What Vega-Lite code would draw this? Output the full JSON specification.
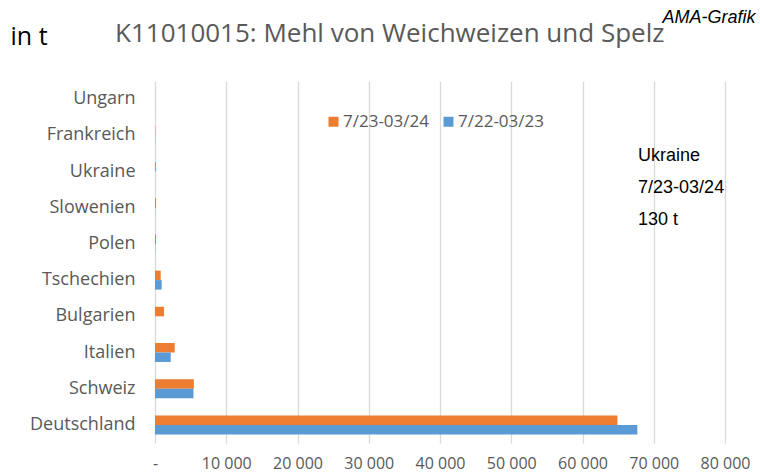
{
  "$schema": "https://vega.github.io/schema/vega-lite/v6.json",
  "width": 570,
  "height": 362,
  "autosize": "none",
  "padding": {"left": 155, "top": 81, "right": 35, "bottom": 32},
  "background": "white",
  "config": {"view": {"stroke": null}, "font": "Open Sans"},
  "title": {
    "text": "K11010015: Mehl von Weichweizen und Spelz",
    "anchor": "start",
    "frame": "group",
    "dx": -40,
    "offset": -39,
    "fontSize": 26,
    "fontWeight": "normal",
    "font": "Open Sans",
    "color": "#595959"
  },
  "data": {
    "values": [
      {"Land": "Deutschland", "Zeitraum": "7/23-03/24", "Menge": 64900},
      {"Land": "Deutschland", "Zeitraum": "7/22-03/23", "Menge": 67700},
      {"Land": "Schweiz", "Zeitraum": "7/23-03/24", "Menge": 5450},
      {"Land": "Schweiz", "Zeitraum": "7/22-03/23", "Menge": 5400},
      {"Land": "Italien", "Zeitraum": "7/23-03/24", "Menge": 2770},
      {"Land": "Italien", "Zeitraum": "7/22-03/23", "Menge": 2210},
      {"Land": "Bulgarien", "Zeitraum": "7/23-03/24", "Menge": 1270},
      {"Land": "Bulgarien", "Zeitraum": "7/22-03/23", "Menge": 0},
      {"Land": "Tschechien", "Zeitraum": "7/23-03/24", "Menge": 800},
      {"Land": "Tschechien", "Zeitraum": "7/22-03/23", "Menge": 940},
      {"Land": "Polen", "Zeitraum": "7/23-03/24", "Menge": 150},
      {"Land": "Polen", "Zeitraum": "7/22-03/23", "Menge": 30},
      {"Land": "Slowenien", "Zeitraum": "7/23-03/24", "Menge": 150},
      {"Land": "Slowenien", "Zeitraum": "7/22-03/23", "Menge": 20},
      {"Land": "Ukraine", "Zeitraum": "7/23-03/24", "Menge": 130},
      {"Land": "Ukraine", "Zeitraum": "7/22-03/23", "Menge": 0},
      {"Land": "Frankreich", "Zeitraum": "7/23-03/24", "Menge": 40},
      {"Land": "Frankreich", "Zeitraum": "7/22-03/23", "Menge": 30},
      {"Land": "Ungarn", "Zeitraum": "7/23-03/24", "Menge": 10},
      {"Land": "Ungarn", "Zeitraum": "7/22-03/23", "Menge": 10}
    ]
  },
  "encoding": {
    "y": {
      "field": "Land",
      "type": "nominal",
      "sort": ["Ungarn", "Frankreich", "Ukraine", "Slowenien", "Polen", "Tschechien", "Bulgarien", "Italien", "Schweiz", "Deutschland"],
      "scale": {"paddingInner": 0.475, "paddingOuter": 0.2375},
      "axis": {
        "title": "in t",
        "titleAngle": 0,
        "titleX": -145,
        "titleY": -37,
        "titleAlign": "left",
        "titleBaseline": "alphabetic",
        "titleFont": "Open Sans",
        "titleFontSize": 25,
        "titleFontWeight": "normal",
        "titleColor": "#000000",
        "domain": false,
        "ticks": false,
        "labelPadding": 20,
        "labelFontSize": 18,
        "labelColor": "#595959",
        "labelFont": "Open Sans"
      }
    },
    "x": {
      "field": "Menge",
      "type": "quantitative",
      "scale": {"domain": [0, 80000], "nice": false},
      "axis": {
        "values": [0, 10000, 20000, 30000, 40000, 50000, 60000, 70000, 80000],
        "labelExpr": "datum.value == 0 ? '-' : replace(format(datum.value, ','), ',', ' ')",
        "labelOverlap": false,
        "labelFlush": false,
        "grid": true,
        "gridColor": "#d9d9d9",
        "gridWidth": 1.3,
        "domain": false,
        "ticks": false,
        "labelPadding": 12,
        "labelFontSize": 16,
        "labelColor": "#595959",
        "labelFont": "Open Sans",
        "title": "AMA-Grafik",
        "titleX": 507,
        "titleY": -421,
        "titleAlign": "left",
        "titleBaseline": "alphabetic",
        "titleFont": "Liberation Sans",
        "titleFontStyle": "italic",
        "titleFontWeight": "normal",
        "titleFontSize": 18,
        "titleColor": "#000000"
      }
    }
  },
  "layer": [
    {
      "mark": {"type": "bar"},
      "encoding": {
        "yOffset": {
          "field": "Zeitraum",
          "type": "nominal",
          "sort": ["7/23-03/24", "7/22-03/23"],
          "scale": {"paddingInner": 0, "paddingOuter": 0}
        },
        "color": {
          "field": "Zeitraum",
          "type": "nominal",
          "sort": ["7/23-03/24", "7/22-03/23"],
          "scale": {"domain": ["7/23-03/24", "7/22-03/23"], "range": ["#ED7D31", "#5B9BD5"]},
          "legend": {
            "title": null,
            "orient": "none",
            "direction": "horizontal",
            "legendX": 170,
            "legendY": 32,
            "symbolType": "square",
            "symbolSize": 100,
            "symbolStrokeWidth": 0,
            "labelFont": "Open Sans",
            "labelFontSize": 17,
            "labelColor": "#595959",
            "labelOffset": 1,
            "columnPadding": 11
          }
        }
      }
    },
    {
      "transform": [{"filter": "datum.Land == 'Ukraine' && datum.Zeitraum == '7/23-03/24'"}],
      "mark": {
        "type": "text",
        "text": ["Ukraine", "7/23-03/24", "130 t"],
        "align": "left",
        "baseline": "middle",
        "lineHeight": 32,
        "dy": -16,
        "font": "Liberation Sans",
        "fontSize": 18,
        "color": "#000000"
      },
      "encoding": {
        "x": {"datum": 67800},
        "color": {"value": "#000000"}
      }
    }
  ]
}
